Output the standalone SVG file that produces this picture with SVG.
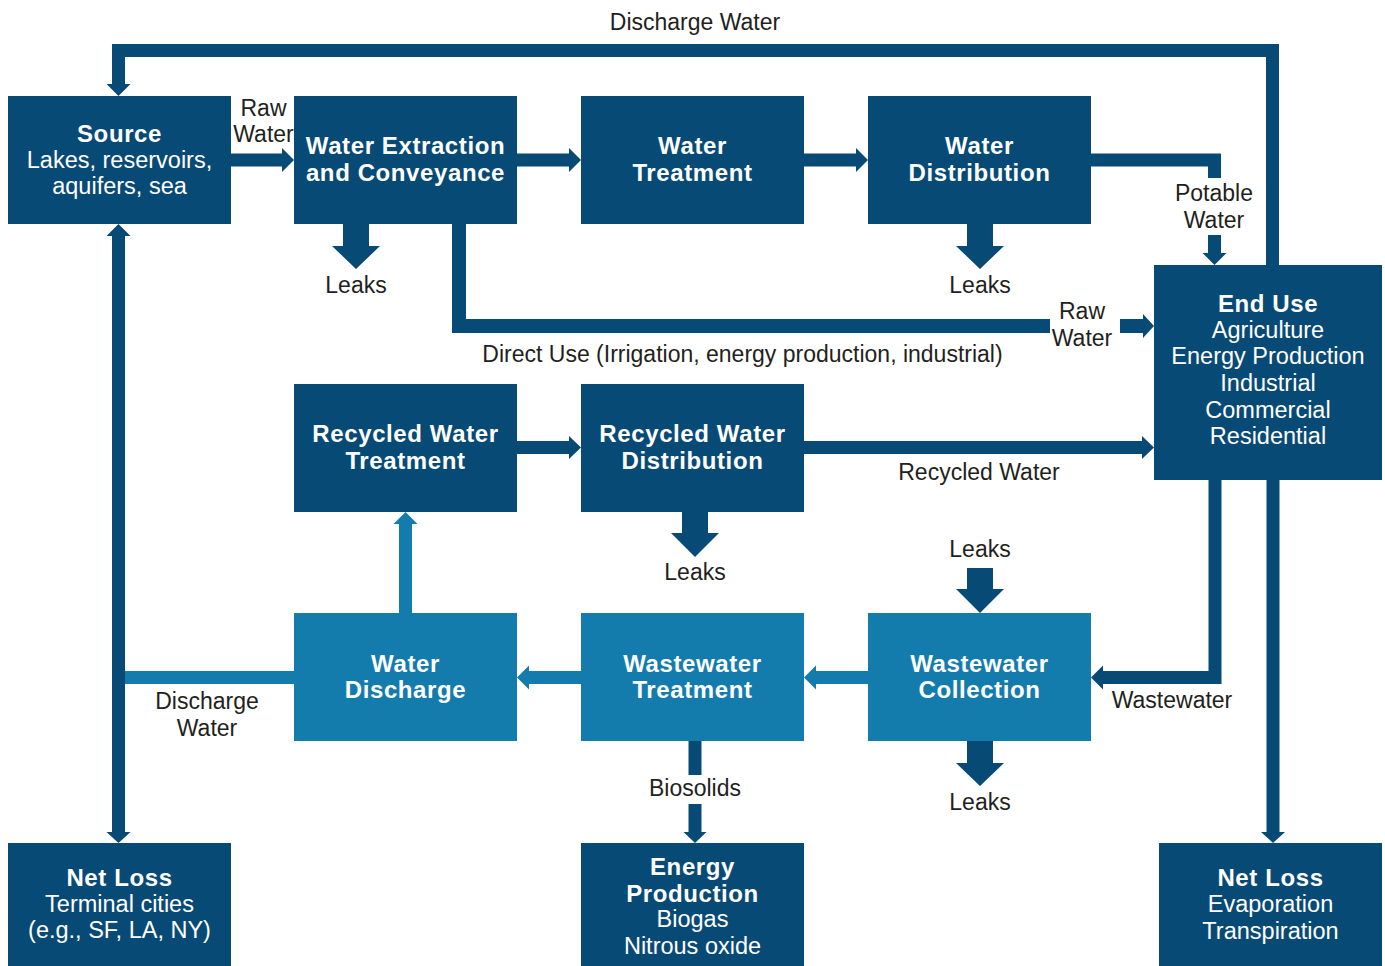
<svg xmlns="http://www.w3.org/2000/svg" width="1385" height="966" viewBox="0 0 1385 966">
<style>
.d{fill:#084a76}
.l{fill:#137cad}
.ln{fill:none;stroke:#084a76;stroke-width:13;stroke-linejoin:miter;stroke-linecap:butt}
.lnl{fill:none;stroke:#137cad;stroke-width:13;stroke-linecap:butt}
.hd{fill:#084a76}
.hl{fill:#137cad}
text{font-family:"Liberation Sans",Arial,Helvetica,sans-serif;text-anchor:middle}
.b{fill:#fff;font-size:24px;font-weight:bold;letter-spacing:0.6px}
.r{fill:#fff;font-size:23.5px}
.lab{fill:#231f20;font-size:23px}
</style>
<rect width="1385" height="966" fill="#fff"/>
<g id="connectors">
  <path class="ln" d="M1272.5 265 V50.5 H118.5 V84"/>
  <polygon class="hd" points="106.5,84 130.5,84 118.5,96"/>
  <path class="ln" d="M231 160 H282"/>
  <polygon class="hd" points="282,148 294,160 282,172"/>
  <path class="ln" d="M517 160 H569"/>
  <polygon class="hd" points="569,148 581,160 569,172"/>
  <path class="ln" d="M804 160 H856"/>
  <polygon class="hd" points="856,148 868,160 856,172"/>
  <path class="ln" d="M1091 160 H1214.5 V178"/>
  <path class="ln" d="M1214.5 235 V253"/>
  <polygon class="hd" points="1202.5,253 1226.5,253 1214.5,265"/>
  <polygon class="hd" points="343,223 369,223 369,246 380,246 356,269 332,246 343,246"/>
  <polygon class="hd" points="967,223 993,223 993,246 1004,246 980,269 956,246 967,246"/>
  <path class="ln" style="stroke-width:14" d="M459 223 V326 H1050"/>
  <path class="ln" style="stroke-width:14" d="M1120 326 H1143"/>
  <polygon class="hd" points="1143,314 1154,326 1143,338"/>
  <path class="ln" d="M517 447.5 H569"/>
  <polygon class="hd" points="569,436 581,447.5 569,459"/>
  <path class="ln" d="M804 447.5 H1142"/>
  <polygon class="hd" points="1142,436 1154,447.5 1142,459"/>
  <polygon class="hd" points="682,511 708,511 708,533 719,533 695,557 671,533 682,533"/>
  <polygon class="hd" points="967,568 993,568 993,589 1004,589 980,613 956,589 967,589"/>
  <polygon class="hd" points="967,740 993,740 993,763 1004,763 980,786 956,763 967,763"/>
  <path class="lnl" d="M405.5 613 V524"/>
  <polygon class="hl" points="393.5,524 417.5,524 405.5,512"/>
  <path class="lnl" d="M125 677.5 H294"/>
  <path class="ln" d="M118.5 236 V832"/>
  <polygon class="hd" points="106.5,236 130.5,236 118.5,224"/>
  <polygon class="hd" points="106.5,832 130.5,832 118.5,843"/>
  <path class="lnl" d="M581 677.5 H529"/>
  <polygon class="hl" points="529,665.5 517,677.5 529,689.5"/>
  <path class="lnl" d="M868 677.5 H816"/>
  <polygon class="hl" points="816,665.5 804,677.5 816,689.5"/>
  <path class="ln" d="M1215 480 V677.5 H1103"/>
  <polygon class="hd" points="1103,665.5 1091,677.5 1103,689.5"/>
  <path class="ln" d="M1273 480 V832"/>
  <polygon class="hd" points="1261,832 1285,832 1273,843"/>
  <path class="ln" d="M695 740 V775"/>
  <path class="ln" d="M695 804 V832"/>
  <polygon class="hd" points="683.5,832 706.5,832 695,843"/>
  <text class="lab" x="695" y="30">Discharge Water</text>
  <text class="lab" x="263.5" y="116">Raw</text>
  <text class="lab" x="263.5" y="141.7">Water</text>
  <text class="lab" x="356" y="292.7">Leaks</text>
  <text class="lab" x="980" y="292.7">Leaks</text>
  <text class="lab" x="1214" y="201">Potable</text>
  <text class="lab" x="1214" y="227.7">Water</text>
  <text class="lab" x="1082" y="319.3">Raw</text>
  <text class="lab" x="1082" y="345.7">Water</text>
  <text class="lab" x="742.5" y="361.7">Direct Use (Irrigation, energy production, industrial)</text>
  <text class="lab" x="979" y="480">Recycled Water</text>
  <text class="lab" x="695" y="580">Leaks</text>
  <text class="lab" x="980" y="557.3">Leaks</text>
  <text class="lab" x="980" y="810">Leaks</text>
  <text class="lab" x="695" y="796">Biosolids</text>
  <text class="lab" x="1172" y="708.3">Wastewater</text>
  <text class="lab" x="207" y="709.3">Discharge</text>
  <text class="lab" x="207" y="736">Water</text>
</g>
<g id="source">
  <rect class="d" x="8" y="96" width="223" height="128"/>
  <text class="b" x="119.5" y="141.7">Source</text>
  <text class="r" x="119.5" y="167.7">Lakes, reservoirs,</text>
  <text class="r" x="119.5" y="193.5">aquifers, sea</text>
</g>
<g id="water-extraction">
  <rect class="d" x="294" y="96" width="223" height="128"/>
  <text class="b" x="405.5" y="154">Water Extraction</text>
  <text class="b" x="405.5" y="180.7">and Conveyance</text>
</g>
<g id="water-treatment">
  <rect class="d" x="581" y="96" width="223" height="128"/>
  <text class="b" x="692.5" y="154">Water</text>
  <text class="b" x="692.5" y="180.7">Treatment</text>
</g>
<g id="water-distribution">
  <rect class="d" x="868" y="96" width="223" height="128"/>
  <text class="b" x="979.5" y="154">Water</text>
  <text class="b" x="979.5" y="180.7">Distribution</text>
</g>
<g id="end-use">
  <rect class="d" x="1154" y="265" width="228" height="215"/>
  <text class="b" x="1268" y="311.7">End Use</text>
  <text class="r" x="1268" y="337.7">Agriculture</text>
  <text class="r" x="1268" y="364.3">Energy Production</text>
  <text class="r" x="1268" y="391">Industrial</text>
  <text class="r" x="1268" y="417.5">Commercial</text>
  <text class="r" x="1268" y="444">Residential</text>
</g>
<g id="recycled-water-treatment">
  <rect class="d" x="294" y="384" width="223" height="128"/>
  <text class="b" x="405.5" y="442.3">Recycled Water</text>
  <text class="b" x="405.5" y="469.3">Treatment</text>
</g>
<g id="recycled-water-distribution">
  <rect class="d" x="581" y="384" width="223" height="128"/>
  <text class="b" x="692.5" y="442.3">Recycled Water</text>
  <text class="b" x="692.5" y="469.3">Distribution</text>
</g>
<g id="water-discharge">
  <rect class="l" x="294" y="613" width="223" height="128"/>
  <text class="b" x="405.5" y="671.7">Water</text>
  <text class="b" x="405.5" y="697.7">Discharge</text>
</g>
<g id="wastewater-treatment">
  <rect class="l" x="581" y="613" width="223" height="128"/>
  <text class="b" x="692.5" y="671.7">Wastewater</text>
  <text class="b" x="692.5" y="698">Treatment</text>
</g>
<g id="wastewater-collection">
  <rect class="l" x="868" y="613" width="223" height="128"/>
  <text class="b" x="979.5" y="671.7">Wastewater</text>
  <text class="b" x="979.5" y="698">Collection</text>
</g>
<g id="net-loss-left">
  <rect class="d" x="8" y="843" width="223" height="123"/>
  <text class="b" x="119.5" y="886">Net Loss</text>
  <text class="r" x="119.5" y="911.7">Terminal cities</text>
  <text class="r" x="119.5" y="938.3">(e.g., SF, LA, NY)</text>
</g>
<g id="energy-production">
  <rect class="d" x="581" y="843" width="223" height="123"/>
  <text class="b" x="692.5" y="875">Energy</text>
  <text class="b" x="692.5" y="901.7">Production</text>
  <text class="r" x="692.5" y="927.3">Biogas</text>
  <text class="r" x="692.5" y="954">Nitrous oxide</text>
</g>
<g id="net-loss-right">
  <rect class="d" x="1159" y="843" width="223" height="123"/>
  <text class="b" x="1270.5" y="886">Net Loss</text>
  <text class="r" x="1270.5" y="912">Evaporation</text>
  <text class="r" x="1270.5" y="938.5">Transpiration</text>
</g>
</svg>
